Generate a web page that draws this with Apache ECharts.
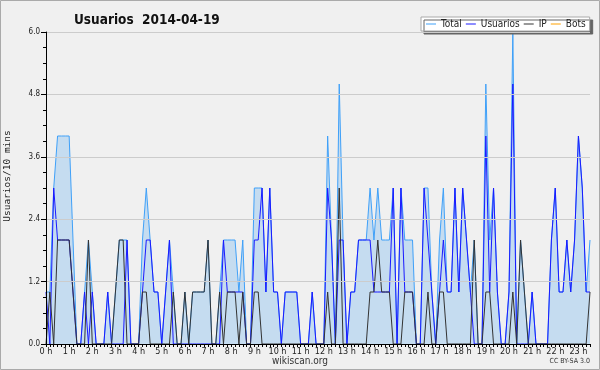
<!DOCTYPE html>
<html>
<head>
<meta charset="utf-8">
<style>
html,body{margin:0;padding:0;background:#f0f0f0;}
#chart{width:600px;height:370px;}
</style>
<script src="https://cdn.jsdelivr.net/npm/echarts@6/dist/echarts.min.js"></script>
</head>
<body>
<div id="chart"></div>
<script>
// Tick labels (one per hour) and category slots (10-minute steps)
var hourLabels = ['0 h','1 h','2 h','3 h','4 h','5 h','6 h','7 h','8 h','9 h','10 h','11 h',
  '12 h','13 h','14 h','15 h','16 h','17 h','18 h','19 h','20 h','21 h','22 h','23 h'];
var yTicks = [0, 1.2, 2.4, 3.6, 4.8, 6.0];

// Series values, one per 10 minutes
var usuarios = [1,0,3,2,2,2,2,1,0,0, 1,0,1,0,0,0,1,0,0,0, 0,2,0,0,0,1,2,2,1,1,
  0,1,2,0,0,0,0,0,0,0, 0,0,0,0,0,0,2,1,1,1, 1,1,0,0,2,2,3,1,3,1,
  1,0,1,1,1,1,0,0,0,1, 0,0,0,3,2,0,2,2,0,1, 1,2,2,2,2,1,1,1,1,1,
  3,0,3,1,1,1,0,0,3,2, 1,0,1,2,1,1,3,1,3,2, 1,0,0,0,4,1,3,1,0,0,
  1,5,0,0,0,0,1,0,0,0, 0,2,3,1,1,2,1,2,4,3, 1,1];
var ip = [0,1,0,2,2,2,2,1,0,0, 0,2,0,0,0,0,0,0,1,2, 2,0,0,0,0,1,1,0,0,0,
  0,0,0,1,0,0,1,0,1,1, 1,1,2,0,0,1,0,1,1,1, 0,1,0,0,1,1,0,0,0,0,
  0,0,0,0,0,0,0,0,0,0, 0,0,0,1,0,0,3,0,0,0, 0,0,0,0,1,1,2,1,1,1,
  0,0,0,1,1,1,0,0,0,1, 0,0,1,1,0,0,0,0,0,0, 0,2,0,0,1,1,0,0,0,0,
  0,1,0,2,1,0,0,0,0,0, 0,0,0,0,0,0,0,0,0,0, 0,1];
var total = [1,1,3,4,4,4,4,2,0,0, 1,2,1,0,0,0,1,0,1,2, 2,2,0,0,0,2,3,2,1,1,
  0,1,2,1,0,0,1,0,1,1, 1,1,2,0,0,1,2,2,2,2, 1,2,0,0,3,3,3,1,3,1,
  1,0,1,1,1,1,0,0,0,1, 0,0,0,4,2,0,5,2,0,1, 1,2,2,2,3,2,3,2,2,2,
  3,0,3,2,2,2,0,0,3,3, 1,0,2,3,1,1,3,1,3,2, 1,2,0,0,5,2,3,1,0,0,
  1,6,0,2,1,0,1,0,0,0, 0,2,3,1,1,2,1,2,4,3, 1,2];
var bots = [0,0,0,0,0,0,0,0,0,0, 0,0,0,0,0,0,0,0,0,0, 0,0,0,0,0,0,0,0,0,0,
  0,0,0,0,0,0,0,0,0,0, 0,0,0,0,0,0,0,0,0,0, 0,0,0,0,0,0,0,0,0,0,
  0,0,0,0,0,0,0,0,0,0, 0,0,0,0,0,0,0,0,0,0, 0,0,0,0,0,0,0,0,0,0,
  0,0,0,0,0,0,0,0,0,0, 0,0,0,0,0,0,0,0,0,0, 0,0,0,0,0,0,0,0,0,0,
  0,0,0,0,0,0,0,0,0,0, 0,0,0,0,0,0,0,0,0,0, 0,0];

var categories = [];
for (var i = 0; i < total.length; i++) {
  categories.push(i % 6 === 0 ? hourLabels[i / 6] : '');
}

var F = '"DejaVu Sans Condensed","DejaVu Sans",sans-serif';
var chart = echarts.init(document.getElementById('chart'));
chart.setOption({
  animation: false,
  backgroundColor: '#f0f0f0',
  title: {
    text: 'Usuarios  2014-04-19',
    left: 69, top: 8,
    textStyle: {fontFamily: F, fontSize: 13.5, fontWeight: 'bold', color: '#111'}
  },
  legend: {
    left: 421, top: 17, orient: 'horizontal', width: 200,
    padding: [2, 4, 2, 5],
    itemGap: 4, itemWidth: 10, itemHeight: 1,
    icon: 'rect',
    backgroundColor: '#ffffff',
    borderColor: '#aaa', borderWidth: 1,
    shadowColor: 'rgba(100,100,100,1)', shadowBlur: 0, shadowOffsetX: 3, shadowOffsetY: 3,
    textStyle: {fontFamily: F, fontSize: 10, color: '#222'},
    data: ['Total', 'Usuarios', 'IP', 'Bots']
  },
  grid: {left: 46, right: 10, top: 32, bottom: 26, containLabel: false, outerBoundsMode: 'none'},
  xAxis: {
    type: 'category', data: categories, boundaryGap: false, z: 10,
    axisLine: {lineStyle: {color: '#000', width: 1}},
    axisTick: {show: true, interval: 0, length: 3, lineStyle: {color: '#000'}},
    axisLabel: {interval: 0, margin: 3, fontFamily: F, fontSize: 9, color: '#222'},
    splitLine: {show: false}
  },
  yAxis: {
    type: 'value', min: yTicks[0], max: yTicks[yTicks.length - 1], interval: 1.2, z: 10,
    axisLine: {show: true, lineStyle: {color: '#000', width: 1}},
    axisTick: {show: true, length: 5, lineStyle: {color: '#000'}},
    minorTick: {show: true, splitNumber: 4, length: 3, lineStyle: {color: '#000'}},
    axisLabel: {margin: 6, fontFamily: F, fontSize: 8, color: '#222',
      formatter: function (v) { return v.toFixed(1); }},
    splitLine: {show: true, lineStyle: {color: '#cccccc', width: 1}}
  },
  series: [
    {name: 'Total', type: 'line', data: total, showSymbol: false, symbol: 'none',
      lineStyle: {color: '#3fa0f8', width: 1}, itemStyle: {color: '#3fa0f8'},
      areaStyle: {color: '#c5dcf0', opacity: 1}, z: 2},
    {name: 'Usuarios', type: 'line', data: usuarios, showSymbol: false, symbol: 'none',
      lineStyle: {color: '#1a1aff', width: 1}, itemStyle: {color: '#1a1aff'}, z: 3},
    {name: 'IP', type: 'line', data: ip, showSymbol: false, symbol: 'none',
      lineStyle: {color: '#333333', width: 1}, itemStyle: {color: '#333333'}, z: 4},
    {name: 'Bots', type: 'line', data: bots, showSymbol: false, symbol: 'none',
      lineStyle: {color: '#ffa000', width: 1}, itemStyle: {color: '#ffa000'}, z: 1}
  ],
  graphic: [
    {type: 'rect', shape: {x: 0.5, y: 0.5, width: 599, height: 369},
      style: {fill: 'none', stroke: '#aaaaaa', lineWidth: 1}, silent: true},
    {type: 'text', x: 8, y: 176, rotation: Math.PI / 2,
      style: {text: 'Usuarios/10 mins', fontFamily: '"DejaVu Sans Mono",monospace', fontSize: 9.5,
        fill: '#222', align: 'center', verticalAlign: 'middle'}},
    {type: 'text', left: 'center', top: 356,
      style: {text: 'wikiscan.org', fontFamily: F, fontSize: 10, fill: '#333'}},
    {type: 'text', right: 10, top: 358,
      style: {text: 'CC BY-SA 3.0', fontFamily: F, fontSize: 7, fill: '#333'}}
  ]
});
</script>
</body>
</html>
